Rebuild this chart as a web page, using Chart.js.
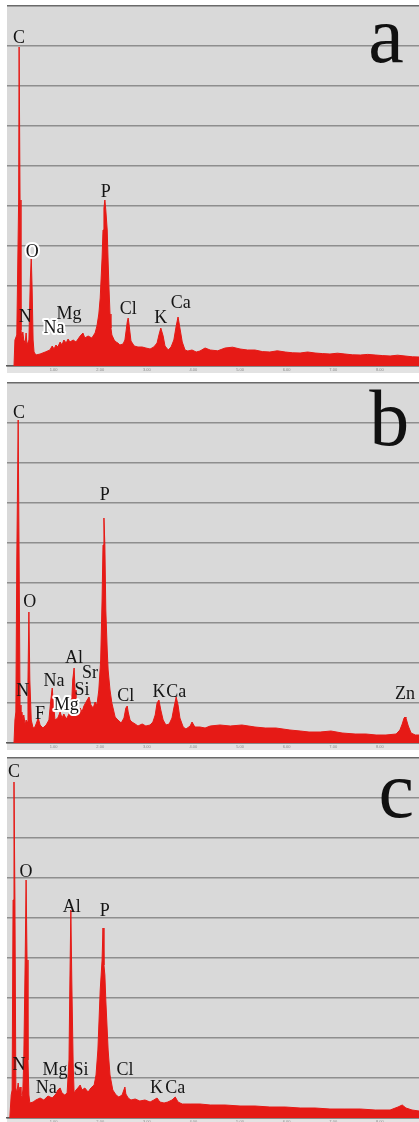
<!DOCTYPE html>
<html><head><meta charset="utf-8">
<script src="https://cdn.jsdelivr.net/npm/chart.js@4.4.1/dist/chart.umd.min.js"></script>
<style>
html,body{margin:0;padding:0;background:#fff;overflow:hidden;width:419px;height:1122px;}
canvas{position:absolute;left:0;}
</style></head><body>
<canvas id="ca" width="419" height="372" style="top:4px;width:419px;height:372px"></canvas>
<canvas id="cb" width="419" height="372" style="top:381px;width:419px;height:372px"></canvas>
<canvas id="cc" width="419" height="372" style="top:756px;width:419px;height:372px"></canvas>
<script>
// ---- data (energy in keV, intensity in counts) ----
const tickKeV = [1, 2, 3, 4, 5, 6, 7, 8];

const energyA = [0.15,0.17,0.21,0.25,0.26,0.28,0.30,0.32,0.34,0.36,0.39,0.41,0.43,0.47,0.50,0.52,0.54,0.56,0.58,0.62,0.71,0.82,0.92,0.97,1.01,1.05,1.09,1.14,1.18,1.22,1.27,1.31,1.35,1.42,1.48,1.57,1.63,1.67,1.74,1.82,1.89,1.93,1.97,2.00,2.04,2.06,2.08,2.10,2.12,2.15,2.17,2.19,2.21,2.23,2.25,2.30,2.34,2.38,2.42,2.49,2.53,2.58,2.60,2.62,2.66,2.73,2.81,2.90,2.98,3.07,3.15,3.22,3.26,3.30,3.35,3.39,3.46,3.52,3.58,3.63,3.67,3.71,3.76,3.82,3.88,3.97,4.06,4.14,4.25,4.36,4.52,4.68,4.84,5.00,5.16,5.32,5.48,5.64,5.80,5.97,6.13,6.29,6.45,6.61,6.77,6.93,7.09,7.25,7.41,7.58,7.74,7.90,8.06,8.22,8.38,8.54,8.70,8.84];
const countsA = [0,65,77.5,415,797.5,415,90,70,85,65,57.5,82.5,52.5,65,215,272.5,190,65,35,27.5,30,35,40,50,42.5,52.5,47.5,60,52.5,65,57.5,67.5,60,65,60,75,82.5,70,75,70,82.5,100,130,170,270,340,395,415,390,340,260,190,130,95,77.5,65,60,57.5,52.5,55,65,110,120,102.5,62.5,50,47.5,47.5,45,42.5,47.5,57.5,77.5,95,75,50,40,47.5,65,100,122.5,95,60,40,37.5,40,35,37.5,45,40,38,45,47,42.5,40,40,36,35,38,35,33,32.5,35,32.5,31,30,32,30,28,27.5,29,27.5,26,25,27,25,23,22.5];

const energyB = [0.15,0.17,0.19,0.21,0.24,0.26,0.28,0.30,0.32,0.34,0.36,0.39,0.41,0.43,0.45,0.47,0.49,0.52,0.56,0.60,0.64,0.67,0.71,0.77,0.84,0.90,0.94,0.97,0.99,1.03,1.09,1.14,1.18,1.22,1.27,1.31,1.35,1.39,1.41,1.44,1.46,1.48,1.52,1.57,1.61,1.65,1.72,1.76,1.80,1.85,1.89,1.93,1.97,2.01,2.04,2.06,2.08,2.10,2.12,2.15,2.17,2.21,2.25,2.32,2.38,2.45,2.51,2.55,2.58,2.60,2.64,2.68,2.75,2.81,2.90,2.98,3.07,3.13,3.18,3.22,3.26,3.30,3.35,3.41,3.48,3.54,3.58,3.63,3.67,3.71,3.78,3.84,3.93,3.97,4.03,4.14,4.25,4.36,4.57,4.79,5.04,5.32,5.54,5.77,6.07,6.29,6.48,6.72,6.95,7.19,7.47,7.70,7.92,8.13,8.35,8.43,8.48,8.52,8.54,8.56,8.61,8.67,8.76,8.84];
const countsB = [0,57.5,77.5,457.5,807.5,457.5,95,62.5,77.5,57.5,70,45,57.5,52.5,157.5,327.5,157.5,57.5,37.5,40,52.5,62.5,45,37.5,45,57.5,107.5,137.5,107.5,57.5,62.5,77.5,62.5,72.5,60,67.5,77.5,107.5,157.5,187.5,132.5,82.5,75,87.5,77.5,92.5,107.5,115,95,87.5,102.5,95,132.5,207.5,357.5,495,562.5,495,332.5,232.5,182.5,132.5,100,65,57.5,50,62.5,87.5,92.5,77.5,57.5,52.5,47.5,42.5,47.5,42.5,45,52.5,70,100,107.5,82.5,57.5,45,47.5,62.5,87.5,115,95,62.5,40,35,42.5,52.5,40,40,37.5,42.5,45,42.5,45,40,37.5,37.5,32.5,30,27.5,27.5,30,25,22.5,22.5,20,20,22.5,32.5,47.5,62.5,65,62.5,42.5,25,20,20];

const energyC = [0.06,0.09,0.11,0.13,0.15,0.17,0.19,0.21,0.24,0.26,0.28,0.30,0.32,0.34,0.36,0.39,0.41,0.43,0.45,0.47,0.49,0.56,0.62,0.71,0.79,0.88,0.97,1.05,1.09,1.14,1.18,1.24,1.29,1.33,1.35,1.37,1.39,1.42,1.44,1.48,1.52,1.57,1.61,1.67,1.74,1.80,1.87,1.91,1.95,2.00,2.02,2.04,2.06,2.08,2.10,2.12,2.17,2.21,2.27,2.34,2.40,2.47,2.53,2.55,2.60,2.66,2.75,2.85,2.96,3.07,3.15,3.22,3.28,3.37,3.45,3.54,3.61,3.67,3.76,3.93,4.14,4.36,4.68,5.00,5.32,5.64,5.97,6.29,6.61,6.93,7.25,7.58,7.90,8.22,8.39,8.48,8.56,8.69,8.84];
const countsC = [0,57.5,70,545,840,545,75,62.5,87.5,65,77.5,57.5,50,70,145,395,595,395,145,57.5,37.5,40,45,50,45,55,50,60,70,75,62.5,57.5,62.5,145,345,520,345,132.5,62.5,70,75,82.5,70,75,65,75,82.5,107.5,170,320,357.5,395,475,382.5,357.5,295,170,107.5,70,57.5,52.5,57.5,77.5,60,50,45,47.5,42.5,45,40,45,50,40,37.5,40,45,52.5,40,35,35,35,32.5,32.5,30,30,27.5,27.5,25,25,22.5,22.5,22.5,20,20,27.5,32.5,25,20,17.5];

const namesA = ['C','O','N','Na','Mg','P','Cl','K','Ca'];
const kevA   = [0.26,0.54,0.39,1.01,1.33,2.12,2.60,3.30,3.73];
const cntA   = [807.5,272.5,110,82.5,117.5,422.5,130,107.5,145];

const namesB = ['C','P','O','Al','Sr','Na','Si','N','Mg','Cl','K','Ca','F','Zn'];
const kevB   = [0.26,2.10,0.49,1.44,1.78,1.01,1.61,0.34,1.27,2.55,3.26,3.63,0.71,8.54];
const cntB   = [812.5,607.5,340,200,162.5,142.5,120,117.5,82.5,105,115,115,60,110];

const namesC = ['C','O','Al','P','N','Mg','Si','Na','Cl','K','Ca'];
const kevC   = [0.15,0.41,1.39,2.10,0.26,1.03,1.59,0.84,2.53,3.21,3.61];
const cntC   = [852.5,602.5,515,505,120,107.5,107.5,62.5,107.5,62.5,62.5];

// ---- drawing ----
const RED = 'rgb(230,26,22)';
const bgPlugin = {
  id: 'bg',
  beforeDraw(chart) {
    const {ctx, chartArea: a} = chart;
    ctx.save();
    ctx.fillStyle = '#d9d9d9';
    ctx.fillRect(a.left, a.top, a.right - a.left, a.bottom - a.top);
    ctx.fillStyle = '#e3e3e3';
    ctx.fillRect(a.left, a.bottom, a.right - a.left, 7);
    ctx.restore();
  }
};
const labelPlugin = {
  id: 'elems',
  afterDatasetsDraw(chart, args, o) {
    const {ctx, scales: {x, y}} = chart;
    ctx.save();
    ctx.textAlign = 'center';
    ctx.textBaseline = 'alphabetic';
    ctx.font = "18px 'Liberation Serif', 'DejaVu Serif', serif";
    o.names.forEach((n, i) => {
      const px = x.getPixelForValue(o.kev[i]);
      const py = y.getPixelForValue(o.cnt[i]);
      if (o.halo.includes(n)) {
        ctx.lineWidth = 4; ctx.lineJoin = 'round'; ctx.strokeStyle = '#fff';
        ctx.strokeText(n, px, py);
      }
      ctx.fillStyle = '#151515';
      ctx.fillText(n, px, py);
    });
    ctx.font = "80px 'Liberation Serif', 'DejaVu Serif', serif";
    ctx.fillStyle = '#111';
    ctx.fillText(o.letter, x.getPixelForValue(o.letterKeV), y.getPixelForValue(o.letterCnt));
    ctx.restore();
  }
};

function makeChart(id, energy, counts, names, kev, cnt, halo, letter, letterKeV, letterCnt) {
  return new Chart(document.getElementById(id), {
    type: 'line',
    data: {
      datasets: [{
        data: energy.map((e, i) => ({x: e, y: counts[i]})),
        borderColor: RED, backgroundColor: RED, borderWidth: 1,
        fill: 'origin', pointRadius: 0, tension: 0
      }]
    },
    options: {
      responsive: false, animation: false,
      layout: {padding: {left: 7, right: 0, top: 2, bottom: 2}},
      plugins: {
        legend: {display: false}, tooltip: {enabled: false},
        elems: {names, kev, cnt, halo, letter, letterKeV, letterCnt}
      },
      scales: {
        x: {
          type: 'linear', min: 0, max: 8.84,
          afterBuildTicks: (s) => { s.ticks = tickKeV.map(v => ({value: v})); },
          ticks: {
            font: {size: 4}, color: '#8a8a8a', padding: 1, maxRotation: 0, autoSkip: false,
            callback: (v) => Number(v).toFixed(2)
          },
          grid: {display: false, drawTicks: false},
          border: {display: true, color: '#5a5a5a', width: 1.5},
          afterFit: (s) => { s.height = 8; }
        },
        y: {
          min: 0, max: 900,
          ticks: {display: false, stepSize: 100},
          grid: {
            drawTicks: false, lineWidth: 1.6,
            color: (c) => c.tick && c.tick.value === 900 ? '#6a6a6a' : '#8e8e8e'
          },
          border: {display: false},
          afterFit: (s) => { s.width = 0; }
        }
      }
    },
    plugins: [bgPlugin, labelPlugin]
  });
}

makeChart('ca', energyA, countsA, namesA, kevA, cntA, ['O','Na'], 'a', 8.13, 760);
makeChart('cb', energyB, countsB, namesB, kevB, cntB, ['Mg'], 'b', 8.20, 745);
makeChart('cc', energyC, countsC, namesC, kevC, cntC, [], 'c', 8.35, 752.5);
</script>
</body></html>
